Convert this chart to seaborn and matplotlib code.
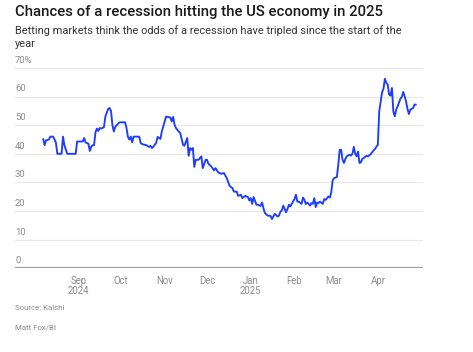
import pandas as pd
import numpy as np
import matplotlib
matplotlib.use('Agg')
import matplotlib.pyplot as plt
import matplotlib.dates as mdates
import matplotlib.transforms as mtransforms
import seaborn as sns

# Kalshi odds of a US recession in 2025 (%)
dates = [
    '2024-08-07', '2024-08-08', '2024-08-09', '2024-08-11', '2024-08-12', '2024-08-14',
    '2024-08-15', '2024-08-16', '2024-08-17', '2024-08-20', '2024-08-21', '2024-08-22',
    '2024-08-24', '2024-08-30', '2024-08-31', '2024-09-04', '2024-09-05', '2024-09-06',
    '2024-09-08', '2024-09-09', '2024-09-10', '2024-09-11', '2024-09-12', '2024-09-13',
    '2024-09-14', '2024-09-15', '2024-09-16', '2024-09-17', '2024-09-19', '2024-09-20',
    '2024-09-22', '2024-09-23', '2024-09-24', '2024-09-25', '2024-09-26', '2024-09-27',
    '2024-09-28', '2024-09-30', '2024-10-04', '2024-10-05', '2024-10-06', '2024-10-07',
    '2024-10-08', '2024-10-09', '2024-10-10', '2024-10-14', '2024-10-15', '2024-10-16',
    '2024-10-19', '2024-10-21', '2024-10-22', '2024-10-23', '2024-10-24', '2024-10-26',
    '2024-10-27', '2024-10-29', '2024-10-30', '2024-11-01', '2024-11-02', '2024-11-05',
    '2024-11-06', '2024-11-07', '2024-11-08', '2024-11-09', '2024-11-11', '2024-11-12',
    '2024-11-13', '2024-11-14', '2024-11-15', '2024-11-17', '2024-11-18', '2024-11-19',
    '2024-11-20', '2024-11-21', '2024-11-22', '2024-11-23', '2024-11-25', '2024-11-26',
    '2024-11-27', '2024-11-28', '2024-11-30', '2024-12-01', '2024-12-02', '2024-12-04',
    '2024-12-06', '2024-12-07', '2024-12-09', '2024-12-11', '2024-12-13', '2024-12-15',
    '2024-12-17', '2024-12-19', '2024-12-20', '2024-12-22', '2024-12-23', '2024-12-25',
    '2024-12-26', '2024-12-28', '2024-12-30', '2024-12-31', '2025-01-01', '2025-01-02',
    '2025-01-03', '2025-01-05', '2025-01-06', '2025-01-08', '2025-01-09', '2025-01-10',
    '2025-01-11', '2025-01-13', '2025-01-15', '2025-01-16', '2025-01-17', '2025-01-18',
    '2025-01-20', '2025-01-21', '2025-01-22', '2025-01-23', '2025-01-24', '2025-01-26',
    '2025-01-27', '2025-01-28', '2025-01-29', '2025-01-30', '2025-02-01', '2025-02-02',
    '2025-02-03', '2025-02-04', '2025-02-06', '2025-02-07', '2025-02-08', '2025-02-09',
    '2025-02-10', '2025-02-12', '2025-02-13', '2025-02-14', '2025-02-15', '2025-02-16',
    '2025-02-17', '2025-02-18', '2025-02-19', '2025-02-21', '2025-02-22', '2025-02-23',
    '2025-02-25', '2025-02-26', '2025-02-27', '2025-02-28', '2025-03-01', '2025-03-03',
    '2025-03-04', '2025-03-05', '2025-03-06', '2025-03-07', '2025-03-08', '2025-03-09',
    '2025-03-10', '2025-03-12', '2025-03-13', '2025-03-14', '2025-03-15', '2025-03-16',
    '2025-03-17', '2025-03-18', '2025-03-19', '2025-03-20', '2025-03-21', '2025-03-23',
    '2025-03-24', '2025-03-25', '2025-03-27', '2025-03-29', '2025-03-30', '2025-04-01',
    '2025-04-02', '2025-04-04', '2025-04-05', '2025-04-06', '2025-04-07', '2025-04-08',
    '2025-04-09', '2025-04-10', '2025-04-11', '2025-04-12', '2025-04-13', '2025-04-14',
    '2025-04-15', '2025-04-17', '2025-04-18', '2025-04-19', '2025-04-20', '2025-04-21',
    '2025-04-22', '2025-04-23', '2025-04-24', '2025-04-26', '2025-04-27', '2025-04-28',
]
odds = [
    45.2, 43.0, 44.7, 45.0, 46.0, 46.0,
    45.0, 43.8, 40.0, 40.0, 46.0, 43.0,
    40.0, 40.0, 44.3, 44.3, 45.5, 44.0,
    43.5, 41.0, 42.5, 43.0, 43.0, 47.5,
    48.8, 48.0, 49.0, 48.8, 49.3, 53.0,
    55.7, 56.0, 55.0, 50.0, 47.8, 49.4,
    50.0, 51.0, 51.0, 49.0, 45.9, 45.0,
    46.0, 44.0, 46.0, 46.0, 43.8, 43.4,
    43.0, 42.4, 42.8, 42.0, 42.5, 43.8,
    45.9, 45.2, 47.8, 51.3, 53.0, 52.7,
    51.3, 52.9, 50.2, 49.0, 47.8, 47.3,
    45.2, 43.2, 42.8, 45.5, 39.3, 42.0,
    41.4, 42.0, 35.4, 37.9, 37.9, 38.5,
    39.1, 35.0, 37.9, 37.9, 36.5, 35.6,
    34.2, 35.0, 33.5, 33.0, 33.3, 31.5,
    28.8, 28.0, 26.8, 26.8, 25.3, 25.7,
    24.5, 25.3, 24.9, 23.7, 24.5, 22.5,
    24.9, 22.2, 22.2, 21.8, 23.0, 21.0,
    19.3, 18.4, 18.3, 17.2, 18.1, 19.0,
    18.1, 18.4, 19.8, 20.2, 21.9, 19.6,
    20.7, 22.2, 21.6, 22.5, 24.2, 25.7,
    23.3, 23.3, 22.5, 24.7, 23.9, 22.5,
    23.0, 21.9, 22.8, 22.5, 24.5, 21.4,
    23.0, 22.8, 23.3, 22.5, 24.2, 23.9,
    25.1, 24.7, 26.5, 30.7, 31.5, 31.9,
    36.2, 41.4, 41.4, 37.9, 36.8, 38.2,
    39.1, 39.7, 39.4, 40.0, 42.4, 40.0,
    39.1, 40.8, 36.8, 37.0, 38.2, 38.9,
    39.3, 39.1, 39.9, 41.2, 41.7, 43.2,
    54.8, 61.5, 62.7, 66.2, 64.8, 64.2,
    60.7, 60.3, 63.0, 54.8, 53.1, 55.4,
    56.6, 59.2, 59.9, 61.6, 60.1, 58.3,
    55.7, 53.9, 55.4, 56.0, 57.2, 57.2,
]

y_ticks = [0, 10, 20, 30, 40, 50, 60, 70]
y_tick_labels = ['0', '10', '20', '30', '40', '50', '60', '70%']
x_ticks = ['2024-09-01', '2024-10-01', '2024-11-01', '2024-12-01',
           '2025-01-01', '2025-02-01', '2025-03-01', '2025-04-01']
x_tick_labels = ['Sep\n2024', 'Oct', 'Nov', 'Dec', 'Jan\n2025', 'Feb', 'Mar', 'Apr']

title = 'Chances of a recession hitting the US economy in 2025'
subtitle = 'Betting markets think the odds of a recession have tripled since the start of the\nyear'
source = 'Source: Kalshi'
credit = 'Matt Fox/BI'

df = pd.DataFrame({'date': pd.to_datetime(dates), 'odds': odds})

sns.set_style('white')
plt.rcParams['font.family'] = ['Roboto', 'DejaVu Sans']

W, H = 473, 352
fig = plt.figure(figsize=(W / 100, H / 100), dpi=100)
ax = fig.add_axes([15 / W, 1 - 268.3 / H, (423 - 15) / W, (268.3 - 66.5) / H])

grey_text = '#8c8c8c'

# gridlines
for v in y_ticks[1:]:
    ax.axhline(v, color='#e8e8e8', lw=0.9, zorder=0)
ax.axhline(0, color='#a0a0a0', lw=1.6, zorder=3, solid_capstyle='butt')

sns.lineplot(data=df, x='date', y='odds', ax=ax, color='#1d3cff', lw=1.35, zorder=4)

ax.set_xlim(pd.Timestamp('2024-07-18'), pd.Timestamp('2025-05-03'))
ax.set_ylim(0, 70.5)
ax.set_xlabel('')
ax.set_ylabel('')
ax.set_yticks([])
ax.set_xticks(pd.to_datetime(x_ticks))
ax.set_xticklabels(x_tick_labels, fontsize=6.9, color=grey_text, linespacing=1.0)
ax.tick_params(axis='x', length=0, pad=5.5)
for s in ax.spines.values():
    s.set_visible(False)

# y labels sit on top of their gridlines at the left edge
trans = mtransforms.blended_transform_factory(ax.transAxes, ax.transData)
for v, lab in zip(y_ticks, y_tick_labels):
    ax.text(0, v + 1.1, lab, transform=trans, ha='left', va='bottom',
            fontsize=6.8, color=grey_text)

fig.text(15 / W, 1 - 12 / H, title, fontsize=10.7, fontweight='medium',
         color='#1a1a1a', ha='left', va='center')
fig.text(15 / W, 1 - 25.5 / H, subtitle, fontsize=7.9, color='#333333',
         ha='left', va='top', linespacing=1.3)
fig.text(15 / W, 1 - 308 / H, source, fontsize=5.7, color=grey_text, ha='left', va='center')
fig.text(15 / W, 1 - 327 / H, credit, fontsize=5.7, color=grey_text, ha='left', va='center')

fig.savefig('out.png', dpi=100)
